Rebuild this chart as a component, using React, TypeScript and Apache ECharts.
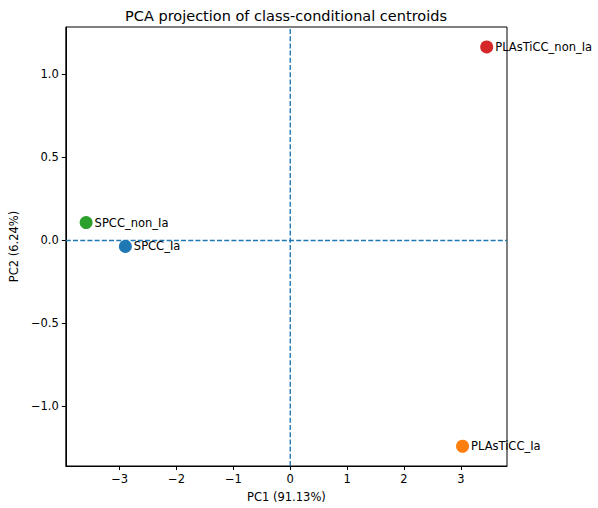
import React, { useEffect, useRef } from "react";
import * as echarts from "echarts";

const classNames = ["SPCC_Ia", "PLAsTiCC_Ia", "SPCC_non_Ia", "PLAsTiCC_non_Ia"];
const pc1Values = [-2.9, 3.03, -3.59, 3.455];
const pc2Values = [-0.036, -1.24, 0.108, 1.166];
const pointColors = ["#1f77b4", "#ff7f0e", "#2ca02c", "#d62728"];
const xTicks = [-3, -2, -1, 0, 1, 2, 3];
const yTicks = [-1.0, -0.5, 0.0, 0.5, 1.0];
const xRange = [-3.947, 3.812];
const yRange = [-1.359, 1.286];
const titleText = "PCA projection of class-conditional centroids";
const xLabel = "PC1 (91.13%)";
const yLabel = "PC2 (6.24%)";

const FONT = "DejaVu Sans";
const minus = (s: string) => s.replace("-", "\u2212");

export default function App() {
  const ref = useRef<HTMLDivElement>(null);
  useEffect(() => {
    document.body.style.margin = "0";
    const chart = echarts.init(ref.current!, null, { renderer: "svg" });
    const gridLeft = 65;
    const gridTop = 27;
    const gridW = 442;
    const gridH = 442;
    const refLine = { color: "#1f77b4", width: 1.4, type: [5, 2.2], opacity: 1 };
    const refSeries = (data: number[][]) => ({
      type: "line",
      data,
      z: 1,
      silent: true,
      symbol: "none",
      showSymbol: false,
      color: "#1f77b4",
      lineStyle: refLine,
      emphasis: { disabled: true },
      tooltip: { show: false },
    });
    chart.setOption({
      animation: false,
      backgroundColor: "#ffffff",
      textStyle: { fontFamily: FONT },
      title: {
        text: titleText,
        left: gridLeft + gridW / 2 - 5,
        textAlign: "center",
        top: 3,
        textStyle: { fontFamily: FONT, fontSize: 14.5, fontWeight: "normal", color: "#000" },
      },
      grid: {
        left: gridLeft,
        top: gridTop,
        width: gridW,
        height: gridH,
        show: true,
        borderColor: "#000",
        borderWidth: 1,
        backgroundColor: "transparent",
      },
      xAxis: {
        type: "value",
        min: xRange[0],
        max: xRange[1],
        name: xLabel,
        nameLocation: "middle",
        nameGap: 25,
        nameTextStyle: { fontFamily: FONT, fontSize: 11.5, color: "#000" },
        splitLine: { show: false },
        axisLine: { show: true, onZero: false, lineStyle: { color: "#000", width: 1 } },
        axisTick: {
          show: true,
          length: 4,
          lineStyle: { color: "#000", width: 1 },
          customValues: xTicks,
        },
        axisLabel: {
          color: "#000",
          fontFamily: FONT,
          fontSize: 11.5,
          margin: 7,
          customValues: xTicks,
          formatter: (v: number) => minus(String(Math.round(v))),
        },
      },
      yAxis: {
        type: "value",
        min: yRange[0],
        max: yRange[1],
        name: yLabel,
        nameLocation: "middle",
        nameGap: 43,
        nameRotate: 90,
        nameTextStyle: { fontFamily: FONT, fontSize: 11.5, color: "#000" },
        splitLine: { show: false },
        axisLine: { show: true, onZero: false, lineStyle: { color: "#000", width: 1 } },
        axisTick: {
          show: true,
          length: 4,
          lineStyle: { color: "#000", width: 1 },
          customValues: yTicks,
        },
        axisLabel: {
          color: "#000",
          fontFamily: FONT,
          fontSize: 11.5,
          margin: 7,
          customValues: yTicks,
          formatter: (v: number) => minus(v.toFixed(1)),
        },
      },
      series: [
        refSeries([[0, yRange[0]], [0, yRange[1]]]),
        refSeries([[xRange[0], 0], [xRange[1], 0]]),
        {
          type: "scatter",
          z: 3,
          symbolSize: 13,
          data: classNames.map((n, i) => ({
            name: n,
            value: [pc1Values[i], pc2Values[i]],
            itemStyle: { color: pointColors[i], opacity: 1 },
          })),
          label: {
            show: true,
            position: "right",
            distance: 2,
            formatter: "{b}",
            color: "#000",
            fontFamily: FONT,
            fontSize: 11.5,
          },
        },
      ],
    });
    return () => chart.dispose();
  }, []);
  return (
    <div
      ref={ref}
      style={{ position: "absolute", left: 0, top: 0, width: 598, height: 508 }}
    />
  );
}
